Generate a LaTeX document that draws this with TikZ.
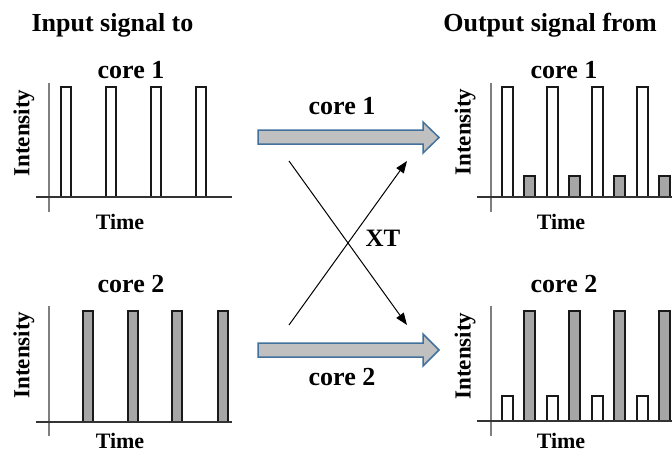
\documentclass[tikz,border=0pt]{standalone}
\usepackage{fontspec}
\setmainfont{Liberation Serif}
\usetikzlibrary{arrows.meta}
\definecolor{barGray}{HTML}{A6A6A6}
\definecolor{arrFill}{HTML}{C0C0C0}
\definecolor{arrEdge}{HTML}{41719C}
\definecolor{axGray}{HTML}{7F7F7F}
\tikzset{
  head/.style={font=\bfseries\fontsize{26}{28}\selectfont, anchor=base, inner sep=0pt},
  timelbl/.style={font=\bfseries\fontsize{22}{24}\selectfont, anchor=base, inner sep=0pt},
  intlbl/.style={font=\bfseries\fontsize{23}{25}\selectfont, rotate=90, anchor=center, inner sep=0pt},
  xtlbl/.style={font=\bfseries\fontsize{25}{27}\selectfont, anchor=base, inner sep=0pt},
  whitebar/.style={draw=black!90, line width=1.5pt, fill=white},
  graybar/.style={draw=black!90, line width=1.5pt, fill=barGray},
  yaxis/.style={draw=axGray, line width=1.5pt},
  xaxis/.style={draw=black!80, line width=1.5pt},
  blockarrow/.style={draw=arrEdge, line width=1.5pt, fill=arrFill, line join=miter},
  xtline/.style={draw=black, line width=1pt, -{Triangle[length=12pt,width=9pt]}}
}
\begin{document}
\begin{tikzpicture}[x=1pt,y=-1pt]
\useasboundingbox (0,0) rectangle (672,455);
\fill[white] (0,0) rectangle (672,455);

% headings
\node[head] (hin) at (112.5,31) {Input signal to};
\node[head] (hout) at (550,31) {Output signal from};

% ---------- top-left panel ----------
\node[head] (tlc) at (131,78) {core 1};
\foreach \x in {61,106,151,196} \draw[whitebar] (\x,87) rectangle (\x+10,197);
\draw[yaxis] (49,83) -- (49,212);
\draw[xaxis] (36,197) -- (232,197);
\node[intlbl] (tli) at (24,133) {Intensity};
\node[timelbl] (tlt) at (120,229) {Time};

% ---------- top-right panel ----------
\node[head] (trc) at (564,78) {core 1};
\foreach \x in {502,547,592,637} \draw[whitebar] (\x,87) rectangle (\x+11,197);
\foreach \x in {524,569,614,659} \draw[graybar] (\x,176) rectangle (\x+11,197);
\draw[yaxis] (491,83) -- (491,212);
\draw[xaxis] (477,197) -- (672,197);
\node[intlbl] (tri) at (465,132) {Intensity};
\node[timelbl] (trt) at (561,229) {Time};

% ---------- bottom-left panel ----------
\node[head] (blc) at (131,292) {core 2};
\foreach \x in {83,128,172,218} \draw[graybar] (\x,311) rectangle (\x+10,422);
\draw[yaxis] (49,306) -- (49,436);
\draw[xaxis] (36,422) -- (232,422);
\node[intlbl] (bli) at (24,355) {Intensity};
\node[timelbl] (blt) at (120,448) {Time};

% ---------- bottom-right panel ----------
\node[head] (brc) at (564,292) {core 2};
\foreach \x in {502,547,592,637} \draw[whitebar] (\x,396) rectangle (\x+11,421);
\foreach \x in {524,569,614,659} \draw[graybar] (\x,311) rectangle (\x+11,421);
\draw[yaxis] (491,306) -- (491,436);
\draw[xaxis] (477,421) -- (672,421);
\node[intlbl] (bri) at (465,356) {Intensity};
\node[timelbl] (brt) at (561,448) {Time};

% ---------- block arrows ----------
\draw[blockarrow] (258,130) -- (423,130) -- (423,122) -- (439,137.5) -- (423,153) -- (423,144) -- (258,144) -- cycle;
\node[head] (a1) at (342,114) {core 1};
\draw[blockarrow] (258,343) -- (423,343) -- (423,334) -- (439,350) -- (423,366) -- (423,357) -- (258,357) -- cycle;
\node[head] (a2) at (342,385) {core 2};

% ---------- crosstalk ----------
\coordinate (c1s) at (289,161);
\coordinate (c1e) at (407,325);
\coordinate (c2s) at (289,325);
\coordinate (c2e) at (407,161);
\draw[xtline] (c1s) -- (c1e);
\draw[xtline] (c2s) -- (c2e);
\node[xtlbl] (xt) at (383,246) {XT};
\end{tikzpicture}
\end{document}
